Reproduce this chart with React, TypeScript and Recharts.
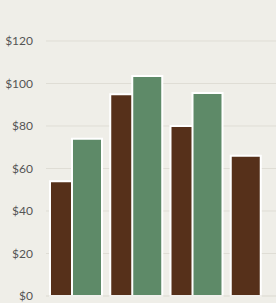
import { BarChart, Bar, XAxis, YAxis, CartesianGrid } from "recharts";

const categories = ["Q1", "Q2", "Q3", "Q4"];
const brownValues = [54, 95, 80, 66];
const greenValues: (number | null)[] = [74, 103.5, 95.5, null];
const yTicks = [0, 20, 40, 60, 80, 100, 120];

const data = categories.map((name, i) => ({
  name,
  brown: brownValues[i],
  green: greenValues[i],
}));

export default function App() {
  return (
    <div
      style={{
        position: "fixed",
        top: 0,
        left: 0,
        width: 276,
        height: 303,
        overflow: "hidden",
        background: "#efeee8",
        fontFamily: "Lato, sans-serif",
      }}
    >
      <BarChart
        width={300}
        height={331}
        data={data}
        margin={{ top: 41, right: 13, left: 0, bottom: 5 }}
        barSize={30}
        barGap={-8}
      >
        <CartesianGrid vertical={false} stroke="#dfddd5" strokeWidth={1} />
        <XAxis dataKey="name" axisLine={{ stroke: "#e3e1da" }} tickLine={false} tick={false} height={30} />
        <YAxis
          domain={[0, 120]}
          ticks={yTicks}
          tickFormatter={(v) => `$${v}`}
          axisLine={false}
          tickLine={false}
          tickSize={0}
          tickMargin={13}
          width={46}
          tick={{ fill: "#555555", fontSize: 12 }}
        />
        <Bar dataKey="brown" fill="#56301a" stroke="#ffffff" strokeWidth={2} isAnimationActive={false} />
        <Bar dataKey="green" fill="#5e8a68" stroke="#ffffff" strokeWidth={2} isAnimationActive={false} />
      </BarChart>
    </div>
  );
}
